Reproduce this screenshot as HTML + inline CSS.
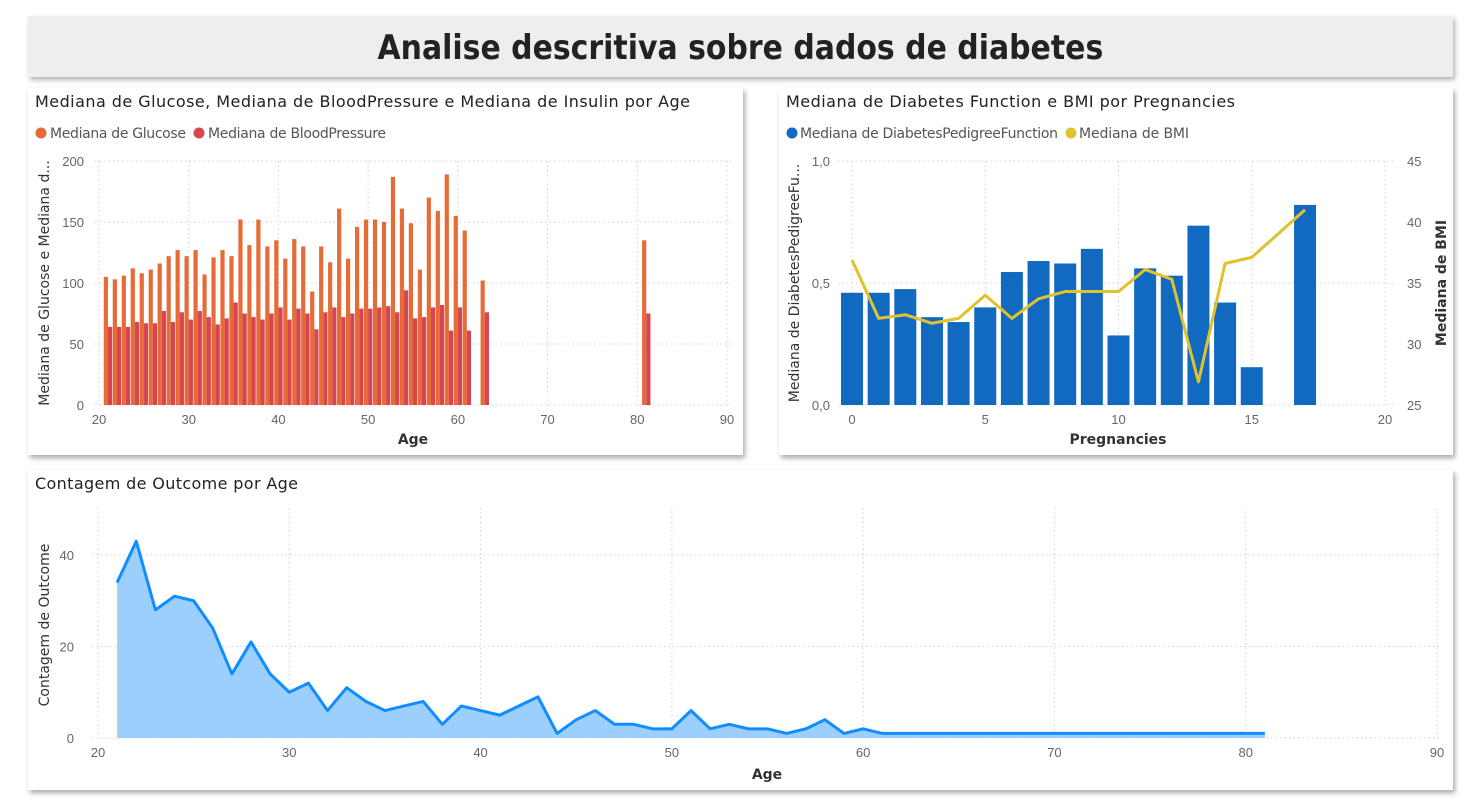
<!DOCTYPE html>
<html><head><meta charset="utf-8">
<style>
body{margin:0;width:1481px;height:801px;background:#fff;font-family:"DejaVu Sans","Liberation Sans",sans-serif;overflow:hidden;position:relative}
.panel{position:absolute;background:#fff;box-shadow:2px 3px 5px rgba(0,0,0,0.35)}
#hdr{position:absolute;left:28px;top:16px;width:1425px;height:61px;background:#eeeeee;box-shadow:2px 3px 5px rgba(0,0,0,0.3);text-align:center;font:bold 34px "DejaVu Sans","Liberation Sans",sans-serif;line-height:64px;color:#222}
#hdr span{display:inline-block;transform:scaleX(0.88)}
svg{position:absolute;left:0;top:0}
</style></head><body>
<div id="hdr"><span>Analise descritiva sobre dados de diabetes</span></div>
<div class="panel" style="left:28px;top:88px;width:715px;height:367px"></div>
<div class="panel" style="left:779px;top:88px;width:674px;height:367px"></div>
<div class="panel" style="left:28px;top:470px;width:1425px;height:320px"></div>
<svg id="s" width="1481" height="801"></svg>
<script>
// Chart 1
const ages1=[21,22,23,24,25,26,27,28,29,30,31,32,33,34,35,36,37,38,39,40,41,42,43,44,45,46,47,48,49,50,51,52,53,54,55,56,57,58,59,60,61,63,81];
const glucose=[105,103,106,112,108,111,116,122,127,122,127,107,121,127,122,152,131,152,130,135,120,136,130,93,130,117,161,120,146,152,152,150,187,161,149,111,170,159,189,155,143,102,135];
const bloodPressure=[64,64,64,68,67,67,77,68,76,70,77,72,66,71,84,75,72,70,75,80,70,79,75,62,76,80,72,75,79,79,80,81,76,94,71,72,80,82,61,80,61,76,75];
const ticksY1=[0,50,100,150,200];
const ticksX1=[20,30,40,50,60,70,80,90];
// Chart 2
const preg=[0,1,2,3,4,5,6,7,8,9,10,11,12,13,14,15,17];
const dpf=[0.46,0.46,0.475,0.36,0.34,0.40,0.545,0.59,0.58,0.64,0.285,0.56,0.53,0.735,0.42,0.155,0.82];
const bmi=[36.9,32.1,32.4,31.7,32.1,34.0,32.1,33.7,34.3,34.3,34.3,36.1,35.3,26.9,36.6,37.1,41.0];
const ticksYL2=[0,0.5,1.0];
const ticksYR2=[25,30,35,40,45];
const ticksX2=[0,5,10,15,20];
// Chart 3
const ages3=[21,22,23,24,25,26,27,28,29,30,31,32,33,34,35,36,37,38,39,40,41,42,43,44,45,46,47,48,49,50,51,52,53,54,55,56,57,58,59,60,61,62,63,64,65,66,67,68,69,70,71,72,73,74,75,76,77,78,79,80,81];
const outcome=[34,43,28,31,30,24,14,21,14,10,12,6,11,8,6,7,8,3,7,6,5,7,9,1,4,6,3,3,2,2,6,2,3,2,2,1,2,4,1,2,1,1,1,1,1,1,1,1,1,1,1,1,1,1,1,1,1,1,1,1,1];
const ticksY3=[0,20,40];
const ticksX3=[20,30,40,50,60,70,80,90];

const S=document.getElementById('s');const NS='http://www.w3.org/2000/svg';
function mk(t,a,txt){const e=document.createElementNS(NS,t);for(const k in a)e.setAttribute(k,a[k]);if(txt!==undefined)e.textContent=txt;S.appendChild(e);return e;}
const grid={stroke:'#d0d0d0','stroke-dasharray':'1.5 3','stroke-width':1};
const tk={fill:'#666','font-size':'13px','font-family':'"Liberation Sans",sans-serif'};
function lin(d0,d1,r0,r1){return v=>r0+(v-d0)*(r1-r0)/(d1-d0);}

// ---- Chart 1
let t=mk('text',{x:35,y:107,'font-size':'16px',fill:'#222',textLength:655},'Mediana de Glucose, Mediana de BloodPressure e Mediana de Insulin por Age');

let c=mk('circle',{cx:41,cy:133,r:5.5,fill:'#e66c37'});
t=mk('text',{x:50,y:138,'font-size':'14px',fill:'#555',textLength:136},'Mediana de Glucose');
c=mk('circle',{cx:199,cy:133,r:5.5,fill:'#d64550'});
t=mk('text',{x:208,y:138,'font-size':'14px',fill:'#555',textLength:178},'Mediana de BloodPressure');
const x1=lin(20,90,99,727), y1=lin(0,200,405,161);
ticksY1.forEach(v=>{let l=mk('line',Object.assign({x1:95,x2:732,y1:y1(v),y2:y1(v)},grid));
 let tt=mk('text',Object.assign({x:84,y:y1(v)+5,'text-anchor':'end'},tk),v);});
ticksX1.forEach(v=>{let l=mk('line',Object.assign({x1:x1(v),x2:x1(v),y1:161,y2:405},grid));
 let tt=mk('text',Object.assign({x:x1(v),y:424,'text-anchor':'middle'},tk),v);});
ages1.forEach((a,i)=>{const cx=x1(a);
 let r=mk('rect',{x:cx-4.2,y:y1(glucose[i]),width:4.2,height:y1(0)-y1(glucose[i]),fill:'#e66c37'});
 r=mk('rect',{x:cx,y:y1(bloodPressure[i]),width:4.2,height:y1(0)-y1(bloodPressure[i]),fill:'#d64550'});});
t=mk('text',{x:413,y:444,'text-anchor':'middle','font-size':'14px','font-weight':'bold',fill:'#333'},'Age');
t=mk('text',{x:0,y:0,'text-anchor':'middle','font-size':'14px',fill:'#333',transform:'translate(49,283) rotate(-90)'},'Mediana de Glucose e Mediana d...');

// ---- Chart 2
t=mk('text',{x:786,y:107,'font-size':'16px',fill:'#222',textLength:449},'Mediana de Diabetes Function e BMI por Pregnancies');
c=mk('circle',{cx:792,cy:133,r:5.5,fill:'#1269c0'});
t=mk('text',{x:800,y:138,'font-size':'14px',fill:'#555',textLength:258},'Mediana de DiabetesPedigreeFunction');
c=mk('circle',{cx:1071,cy:133,r:5.5,fill:'#e0c12e'});
t=mk('text',{x:1079,y:138,'font-size':'14px',fill:'#555',textLength:110},'Mediana de BMI');
const x2=lin(0,20,852,1385), y2=lin(0,1,405,161), y2r=lin(25,45,405,161);
ticksYL2.forEach(v=>{let l=mk('line',Object.assign({x1:838,x2:1396,y1:y2(v),y2:y2(v)},grid));
 let tt=mk('text',Object.assign({x:830,y:y2(v)+5,'text-anchor':'end'},tk),v.toFixed(1).replace('.',','));});
ticksYR2.forEach(v=>{let tt=mk('text',Object.assign({x:1407,y:y2r(v)+5},tk),v);});
ticksX2.forEach(v=>{let l=mk('line',Object.assign({x1:x2(v),x2:x2(v),y1:161,y2:405},grid));
 let tt=mk('text',Object.assign({x:x2(v),y:424,'text-anchor':'middle'},tk),v);});
preg.forEach((p,i)=>{let r=mk('rect',{x:x2(p)-11,y:y2(dpf[i]),width:22,height:y2(0)-y2(dpf[i]),fill:'#1269c0'});});
let pl=mk('polyline',{points:preg.map((p,i)=>x2(p)+','+y2r(bmi[i])).join(' '),fill:'none',stroke:'#e0c12e','stroke-width':3,'stroke-linejoin':'round'});

t=mk('text',{x:1118,y:444,'text-anchor':'middle','font-size':'14px','font-weight':'bold',fill:'#333'},'Pregnancies');
t=mk('text',{x:0,y:0,'text-anchor':'middle','font-size':'14px',fill:'#333',transform:'translate(799,283) rotate(-90)'},'Mediana de DiabetesPedigreeFu...');
t=mk('text',{x:0,y:0,'text-anchor':'middle','font-size':'14px','font-weight':'bold',fill:'#333',transform:'translate(1446,283) rotate(-90)'},'Mediana de BMI');

// ---- Chart 3
t=mk('text',{x:35,y:489,'font-size':'16px',fill:'#222',textLength:263},'Contagem de Outcome por Age');
const x3=lin(20,90,98,1437), y3=lin(0,40,738,555);
ticksY3.forEach(v=>{let l=mk('line',Object.assign({x1:92,x2:1442,y1:y3(v),y2:y3(v)},grid));
 let tt=mk('text',Object.assign({x:74,y:y3(v)+5,'text-anchor':'end'},tk),v);});
ticksX3.forEach(v=>{let l=mk('line',Object.assign({x1:x3(v),x2:x3(v),y1:508,y2:738},grid));
 let tt=mk('text',Object.assign({x:x3(v),y:757,'text-anchor':'middle'},tk),v);});
const pts=ages3.map((a,i)=>x3(a)+','+y3(outcome[i])).join(' ');
let ar=mk('polygon',{points:x3(ages3[0])+','+y3(0)+' '+pts+' '+x3(ages3[ages3.length-1])+','+y3(0),fill:'#9ccffc'});
pl=mk('polyline',{points:pts,fill:'none',stroke:'#118dff','stroke-width':3,'stroke-linejoin':'round'});
t=mk('text',{x:767,y:779,'text-anchor':'middle','font-size':'14px','font-weight':'bold',fill:'#333'},'Age');
t=mk('text',{x:0,y:0,'text-anchor':'middle','font-size':'14px',fill:'#333',transform:'translate(49,625) rotate(-90)'},'Contagem de Outcome');
</script>
</body></html>
